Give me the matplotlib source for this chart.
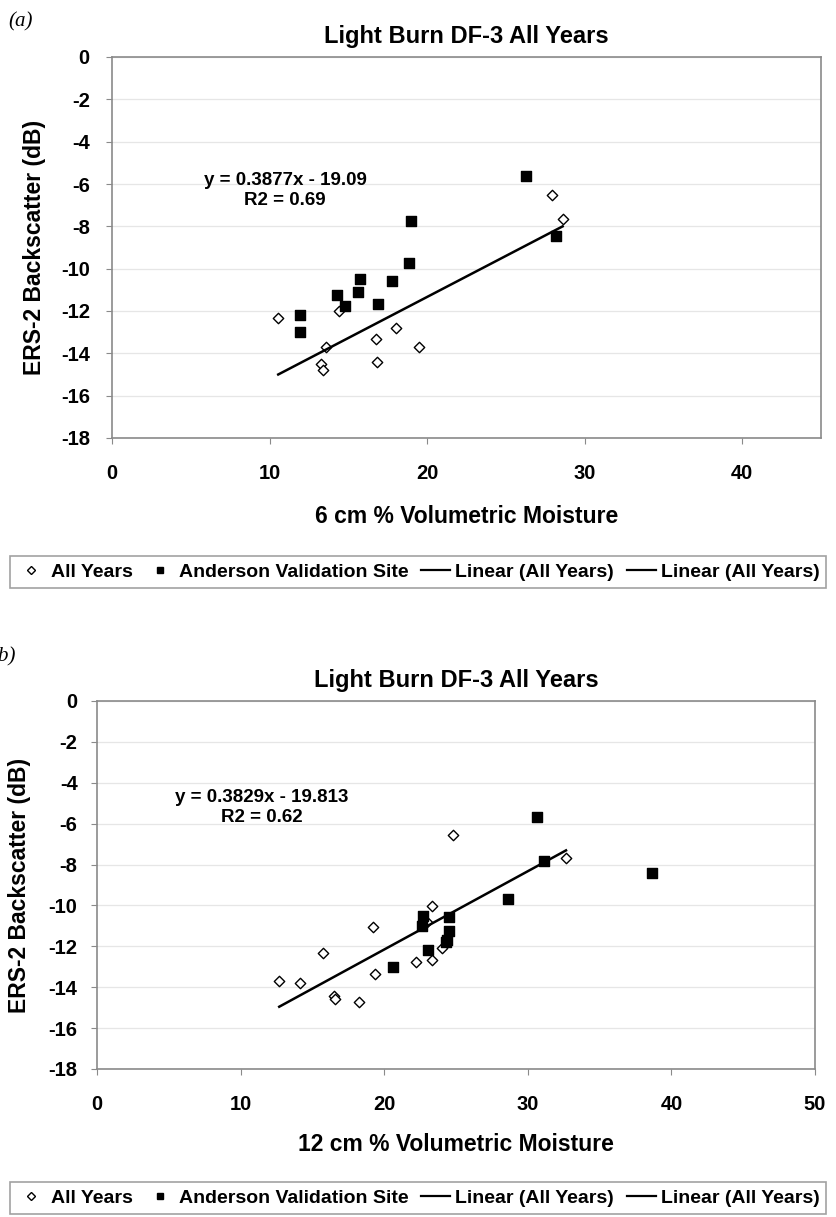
import numpy as np
import matplotlib
matplotlib.use("Agg")
from matplotlib import pyplot as plt
from matplotlib.lines import Line2D

plt.rcParams['font.family'] = ['Liberation Sans', 'DejaVu Sans']
plt.rcParams['font.weight'] = 'bold'
plt.rcParams['axes.unicode_minus'] = False

W, H = 836, 1217

################################  DATA  ################################
# panel (a): 6 cm moisture
a_all_x = [10.55, 14.4, 13.57, 13.25, 13.4, 16.74, 16.85, 18.05, 19.5, 27.9, 28.6]
a_all_y = [-12.31, -12.0, -13.7, -14.5, -14.8, -13.3, -14.4, -12.8, -13.7, -6.5, -7.65]
a_and_x = [11.96, 11.96, 14.25, 14.77, 15.6, 15.77, 16.9, 17.8, 19.0, 18.83, 26.25, 28.2]
a_and_y = [-12.2, -12.99, -11.25, -11.75, -11.1, -10.5, -11.67, -10.57, -7.77, -9.75, -5.64, -8.44]
a_fit = (0.3877, -19.09)
a_r2 = 0.69

# panel (b): 12 cm moisture
b_all_x = [12.69, 14.14, 15.76, 16.5, 16.6, 18.25, 19.24, 19.36, 24.77, 32.66,
           23.35, 23.0, 24.05, 22.2, 23.3]
b_all_y = [-13.71, -13.79, -12.34, -14.44, -14.6, -14.7, -11.03, -13.35, -6.57, -7.66,
           -10.03, -10.82, -12.07, -12.75, -12.66]
b_and_x = [30.66, 31.15, 38.63, 28.6, 22.68, 22.6, 24.5, 24.5, 24.4, 24.3, 23.07, 20.6]
b_and_y = [-5.67, -7.83, -8.41, -9.67, -10.54, -11.0, -10.57, -11.26, -11.67, -11.8, -12.2, -13.0]
b_fit = (0.3829, -19.813)
b_r2 = 0.62

title = "Light Burn DF-3 All Years"
ylabel = "ERS-2 Backscatter (dB)"
y_ticks = list(range(0, -19, -2))

################################  PLOTTING  ################################

def px_axes(fig, left, right, top, bottom):
    return fig.add_axes([left / W, 1 - bottom / H, (right - left) / W, (bottom - top) / H])

def panel(ax, xs, ys, xa, ya, fit, r2, xmax, xticks, xlabel, eq_xy, ylab_x, ytick_pad):
    ax.grid(axis='y', color='#e6e6e6', lw=0.9, zorder=0)
    ax.set_axisbelow(True)
    for s in ax.spines.values():
        s.set_color('#8a8a8a')
        s.set_linewidth(1.2)
    ax.scatter(xs, ys, marker='D', s=28, facecolor='white', edgecolor='black', lw=1.0, zorder=3)
    ax.scatter(xa, ya, marker='s', s=44, facecolor='black', edgecolor='black', zorder=3)
    xl = np.array([min(xs), max(xs)])
    ax.plot(xl, fit[0] * xl + fit[1], color='black', lw=1.8, zorder=4)
    ax.set_xlim(0, xmax)
    ax.set_ylim(-18, 0)
    ax.set_xticks(xticks)
    ax.set_yticks(y_ticks)
    ax.tick_params(axis='both', direction='out', length=4, color='#8a8a8a', labelsize=14.5)
    ax.tick_params(axis='x', pad=15)
    ax.tick_params(axis='y', pad=ytick_pad)
    ax.set_xlabel(xlabel, fontsize=16.5, fontweight='bold')
    ax.xaxis.set_label_coords(0.5, -0.205)
    ax.xaxis.label.set_va('center')
    ax.set_ylabel(ylabel, fontsize=16.5, fontweight='bold')
    ax.yaxis.set_label_coords(ylab_x, 0.5)
    ax.yaxis.label.set_va('center')
    sign = '-' if fit[1] < 0 else '+'
    ax.text(eq_xy[0], eq_xy[1], f"y = {fit[0]}x {sign} {abs(fit[1])}\nR2 = {r2}",
            ha='center', va='center', fontsize=13.5, fontweight='bold', linespacing=1.2)

def add_legend(fig, yc):
    handles = [
        Line2D([], [], ls='none', marker='D', ms=4, mfc='white', mec='black', mew=1.0),
        Line2D([], [], ls='none', marker='s', ms=4.5, mfc='black', mec='black'),
        Line2D([], [], color='black', lw=1.6),
        Line2D([], [], color='black', lw=1.6),
    ]
    labels = ["All Years", "Anderson Validation Site", "Linear (All Years)", "Linear (All Years)"]
    leg = fig.legend(handles, labels, loc='center', bbox_to_anchor=(0.5, yc), ncol=4,
                     frameon=True, fancybox=False, handlelength=1.5, handletextpad=0.25,
                     columnspacing=0.65, borderpad=0.35, borderaxespad=0,
                     prop={'size': 14, 'weight': 'bold'})
    leg.get_frame().set_edgecolor('#8a8a8a')
    leg.get_frame().set_linewidth(1.2)

fig = plt.figure(figsize=(W / 100, H / 100), dpi=100)

ax1 = px_axes(fig, 112, 821, 57, 438)
panel(ax1, a_all_x, a_all_y, a_and_x, a_and_y, a_fit, a_r2, 45, [0, 10, 20, 30, 40],
      "6 cm % Volumetric Moisture", (11.0, -6.3), -0.11, 12)
ax1.set_title(title, fontsize=17, fontweight='bold', pad=10)
fig.text(8 / W, 1 - 22 / H, "(a)", family='Liberation Serif', style='italic',
         fontweight='normal', fontsize=15, va='center')
add_legend(fig, 1 - 572 / H)

ax2 = px_axes(fig, 97, 815, 701, 1069)
panel(ax2, b_all_x, b_all_y, b_and_x, b_and_y, b_fit, b_r2, 50, [0, 10, 20, 30, 40, 50],
      "12 cm % Volumetric Moisture", (11.5, -5.2), -0.108, 10)
ax2.set_title(title, fontsize=17, fontweight='bold', pad=10)
fig.text(16 / W, 1 - 657 / H, "(b)", family='Liberation Serif', style='italic',
         fontweight='normal', fontsize=15, va='center', ha='right')
add_legend(fig, 1 - 1198 / H)

fig.savefig("out.png", dpi=100)
